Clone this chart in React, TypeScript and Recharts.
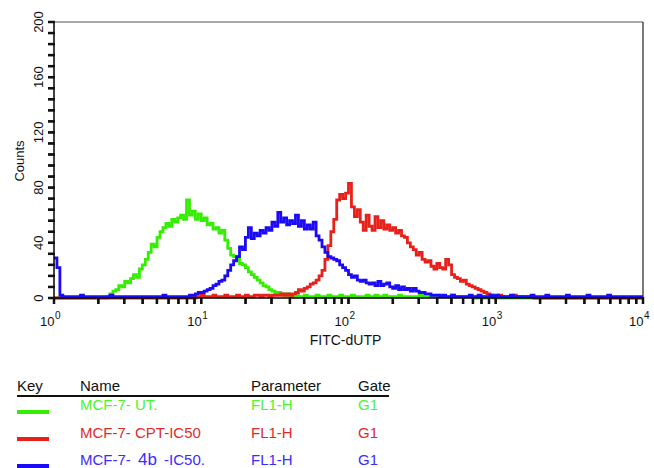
import React from 'react';
import { LineChart, Line, XAxis, YAxis, ReferenceLine } from 'recharts';

// FL1 channels: 50 per decade, 10^0 .. 10^4
const CHANNELS_PER_DECADE = 50;
const CHANNEL_COUNT = 201;

// MCF-7 untreated (green), first channel = 18
const utStart = 18;
const utCounts = [
  1, 3, 5, 6, 9, 8, 12, 11, 14, 17,
  15, 21, 24, 28, 33, 39, 37, 44, 48, 51,
  54, 52, 57, 55, 58, 60, 57, 71, 60, 63,
  57, 61, 56, 58, 53, 54, 50, 51, 47, 49,
  42, 36, 31, 30, 28, 25, 24, 22, 19, 17,
  15, 13, 11, 9, 8, 6, 5, 4, 4, 3,
  2, 3, 2,
  1, 2, 1, 1, 2, 1, 1, 1, 2, 1,
  1, 1, 2, 1, 1, 1, 2, 1, 1, 1,
  2, 1, 1, 1, 1, 2, 1, 1, 2, 1,
  1, 2, 1, 1, 1, 1, 2, 1, 1, 1,
  1, 1, 1, 2, 1, 1, 1, 1, 1, 2,
  1, 1, 1, 1, 2, 1, 1, 1, 1, 1,
  1, 1, 0, 1, 1, 0, 1, 1,
];

// MCF-7 CPT-IC50 (red), first channel = 46
const cptStart = 46;
const cptCounts = [
  1, 0, 1, 1, 2, 1, 1, 1, 2, 1,
  1, 1, 2, 1, 1, 1, 2, 1, 1, 2,
  1, 1, 2, 2, 1, 2, 2, 1, 2, 2,
  2, 3, 2, 3, 2,
  3, 4, 6, 5, 7, 8, 10, 11, 13, 16,
  20, 28, 38, 48, 57, 71, 75, 72, 76, 83,
  66, 59, 64, 55, 49, 60, 52, 49, 59, 51,
  56, 50, 53, 49, 51, 47, 49, 45, 44, 40,
  37, 35, 31, 33, 28, 26, 27, 23, 21, 25,
  22, 21, 28, 24, 17, 15, 14, 12, 13, 10,
  9, 8, 7, 6, 5, 4, 3, 2,
  1, 1, 2, 1, 1, 1, 1, 2, 1, 1, 1, 1, 1, 1,
];

// MCF-7 4b-IC50 (blue), all channels
const ic50Start = 0;
const ic50Counts = [
  29, 22,
  2, 1, 1, 1, 1, 1, 1, 2, 1, 1,
  1, 1, 1, 1, 1, 1, 1, 2, 1, 1,
  1, 1, 1, 1, 1, 1, 1, 1, 1, 1,
  1, 1, 1, 1, 1, 2, 1, 1, 1, 1,
  1, 1, 1, 1,
  2, 2, 3, 4, 4, 5, 6, 7, 9, 10,
  12, 13, 16, 20, 24, 27, 30, 37, 35, 44,
  51, 43, 47, 45, 49, 47, 51, 49, 55, 52,
  62, 55, 58, 53, 56, 54, 60, 52, 56, 50,
  53, 50, 55, 45, 42, 37, 33, 30, 29, 28,
  27, 24, 22, 20, 17, 15, 16, 13, 12, 13,
  11, 10, 11, 9, 12, 9, 10, 11, 8, 7,
  9, 6, 8, 6, 7, 5, 7, 5, 4, 4,
  3, 3, 2, 2,
  2, 1, 2, 1, 1, 2, 1, 1, 1, 1,
  1, 2, 1, 1, 2, 1, 1, 1, 2, 1,
  2, 1, 1, 1, 1, 2, 1, 1, 1, 1,
  1, 1, 2, 1, 1, 1, 1, 2, 1, 1,
  1, 1, 1, 1, 2, 1, 1, 1, 1, 1,
  1, 2, 1, 1, 1, 1, 1, 1, 2, 1,
  1, 1, 1, 1, 1, 1, 1, 1, 1, 1,
  1,
];

const xTicks = [
  1, 2, 3, 4, 5, 6, 7, 8, 9,
  10, 20, 30, 40, 50, 60, 70, 80, 90,
  100, 200, 300, 400, 500, 600, 700, 800, 900,
  1000, 2000, 3000, 4000, 5000, 6000, 7000, 8000, 9000,
  10000,
];
const xMajor = [1, 10, 100, 1000, 10000];
const yTicks = [
  0, 8, 16, 24, 32, 40, 48, 56, 64, 72, 80, 88, 96, 104, 112, 120,
  128, 136, 144, 152, 160, 168, 176, 184, 192, 200,
];
const yMajor = [0, 40, 80, 120, 160, 200];

const legendHeader = ['Key', 'Name', 'Parameter', 'Gate'];
const legendNames = [['MCF-7- UT.'], ['MCF-7- CPT-IC50'], ['MCF-7- ', '4b', ' -IC50.']];
const legendParams = ['FL1-H', 'FL1-H', 'FL1-H'];
const legendGates = ['G1', 'G1', 'G1'];

const LINE_COLORS = ['#33ee00', '#e8201a', '#1a0af5'];
const TEXT_COLORS = ['#4cf52e', '#e02a2a', '#3a2cff'];

const chartData = Array.from({ length: CHANNEL_COUNT }, (_, i) => ({
  fl1: Math.pow(10, i / CHANNELS_PER_DECADE),
  ut: utCounts[i - utStart] ?? 0,
  cpt: cptCounts[i - cptStart] ?? 0,
  ic50: ic50Counts[i - ic50Start] ?? 0,
}));

const NARROW = "'Liberation Sans Narrow', 'Liberation Sans', Arial, sans-serif";
const SANS = "'Liberation Sans', Arial, sans-serif";

// tickSize 6 / tickMargin 0: x,y here sit at the outer end of the tick mark
const XTick = (props: any) => {
  const { x, y, payload } = props;
  const v = payload.value;
  return (
    <g>
      <line x1={x} y1={y - 7} x2={x} y2={y} stroke="#111" strokeWidth={2.5} />
      {xMajor.includes(v) && (
        <g fontFamily={NARROW} fill="#111">
          <text x={x + 0.5} y={y + 22} fontSize={13} textAnchor="end">10</text>
          <text x={x + 1} y={y + 15} fontSize={10} textAnchor="start">
            {Math.round(Math.log10(v))}
          </text>
        </g>
      )}
    </g>
  );
};

const YTick = (props: any) => {
  const { x, y, payload } = props;
  const tx = x - 5;
  return (
    <g>
      <line x1={x} y1={y} x2={x + 7} y2={y} stroke="#111" strokeWidth={2.5} />
      {yMajor.includes(payload.value) && (
        <text
          x={tx}
          y={y}
          transform={`rotate(-90 ${tx} ${y})`}
          textAnchor="middle"
          fontFamily={NARROW}
          fontSize={13}
          fill="#111"
        >
          {payload.value}
        </text>
      )}
    </g>
  );
};

const CountsLabel = (props: any) => {
  const { viewBox } = props;
  const cx = viewBox.x + 24;
  const cy = viewBox.y + viewBox.height / 2 + 1;
  return (
    <text x={cx} y={cy} transform={`rotate(-90 ${cx} ${cy})`} textAnchor="middle"
      fontFamily={SANS} fontSize={13} fill="#111">
      Counts
    </text>
  );
};

const FitcLabel = (props: any) => {
  const { viewBox } = props;
  return (
    <text x={viewBox.x + viewBox.width / 2 - 3} y={viewBox.y + 47} textAnchor="middle"
      fontFamily={SANS} fontSize={14} fill="#111">
      FITC-dUTP
    </text>
  );
};

const textStyle: React.CSSProperties = {
  position: 'absolute',
  fontFamily: SANS,
  fontSize: 15,
  lineHeight: '15px',
  whiteSpace: 'pre',
};

export default function App() {
  const colX = [17, 80, 251, 358];
  const rowTop = [397, 425, 452];
  const keyY = [410, 437, 464];

  return (
    <div style={{ position: 'absolute', left: 0, top: 0, width: 654, height: 468, background: '#fff', overflow: 'hidden' }}>
      <LineChart width={654} height={360} data={chartData} margin={{ top: 22, right: 11, bottom: 0, left: 0 }}>
        <XAxis
          dataKey="fl1"
          type="number"
          scale="log"
          domain={[1, 10000]}
          ticks={xTicks}
          interval={0}
          tickSize={6}
          tickMargin={0}
          height={62}
          axisLine={{ stroke: '#000', strokeWidth: 1.5 }}
          tickLine={{ stroke: '#111', strokeWidth: 2 }}
          tick={<XTick />}
          label={<FitcLabel />}
        />
        <YAxis
          type="number"
          domain={[0, 200]}
          ticks={yTicks}
          interval={0}
          tickSize={6}
          tickMargin={0}
          width={54}
          axisLine={{ stroke: '#000', strokeWidth: 1.5 }}
          tickLine={{ stroke: '#111', strokeWidth: 2 }}
          tick={<YTick />}
          label={<CountsLabel />}
        />
        <ReferenceLine y={200} stroke="#555" strokeWidth={1.2} />
        <ReferenceLine x={10000} stroke="#222" strokeWidth={1.2} />
        <Line type="stepAfter" dataKey="ut" stroke={LINE_COLORS[0]} strokeWidth={2.8} dot={false} isAnimationActive={false} />
        <Line type="stepAfter" dataKey="cpt" stroke={LINE_COLORS[1]} strokeWidth={2.8} dot={false} isAnimationActive={false} />
        <Line type="stepAfter" dataKey="ic50" stroke={LINE_COLORS[2]} strokeWidth={2.8} dot={false} isAnimationActive={false} />
      </LineChart>

      {legendHeader.map((h, i) => (
        <div key={h} style={{ ...textStyle, left: colX[i], top: 378, color: '#111' }}>{h}</div>
      ))}
      <div style={{ position: 'absolute', left: 17, top: 395, width: 372, height: 2, background: '#111' }} />

      {legendNames.map((parts, r) => (
        <React.Fragment key={r}>
          <div style={{ position: 'absolute', left: 17, top: keyY[r], width: 32, height: 4, background: LINE_COLORS[r] }} />
          <div style={{ ...textStyle, left: colX[1], top: rowTop[r], color: TEXT_COLORS[r] }}>
            {parts.map((p, k) =>
              k === 1 ? (
                <span key={k} style={{ fontSize: 17, margin: '0 3px' }}>{p}</span>
              ) : (
                <span key={k}>{p}</span>
              )
            )}
          </div>
          <div style={{ ...textStyle, left: colX[2], top: rowTop[r], color: TEXT_COLORS[r] }}>{legendParams[r]}</div>
          <div style={{ ...textStyle, left: colX[3], top: rowTop[r], color: TEXT_COLORS[r] }}>{legendGates[r]}</div>
        </React.Fragment>
      ))}
    </div>
  );
}
